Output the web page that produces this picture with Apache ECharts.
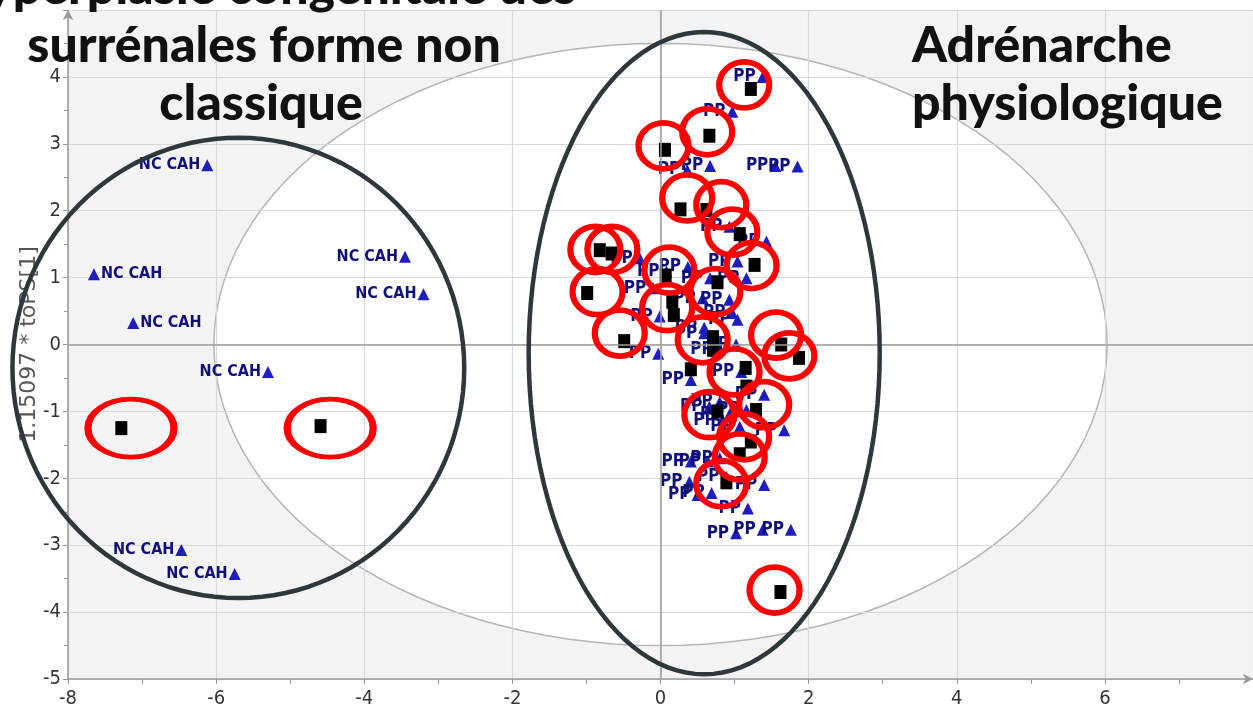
<!DOCTYPE html>
<html>
<head>
<meta charset="utf-8">
<script src="https://cdn.jsdelivr.net/npm/echarts@6/dist/echarts.min.js"></script>
<style>
  html, body { margin: 0; padding: 0; background: #fff; }
  #chart { width: 1253px; height: 714px; }
</style>
</head>
<body>
<div id="chart"></div>
<script>
// NC CAH (hyperplasie congénitale non classique) scores
const ncCahPoints = [
  [-6.12, 2.68], [-7.65, 1.05], [-7.12, 0.32], [-5.30, -0.41],
  [-3.45, 1.31], [-3.20, 0.75], [-6.47, -3.07], [-5.75, -3.43]
];
// PP (adrénarche physiologique) scores
const ppPoints = [
  [1.38, 4.00], [0.97, 3.48], [0.67, 2.67], [0.36, 2.61], [1.55, 2.67], [1.85, 2.66],
  [0.93, 1.76], [1.43, 1.54], [1.04, 1.24], [1.16, 0.99], [-0.28, 1.29], [0.08, 1.09],
  [0.37, 1.16], [-0.10, 0.84], [0.57, 0.69], [0.67, 0.99], [0.93, 0.67], [1.04, 0.37],
  [-0.01, 0.42], [0.59, 0.25], [0.97, 0.47], [-0.03, -0.14], [0.41, -0.53], [0.59, 0.17],
  [1.02, 0.00], [0.80, -0.08], [1.09, -0.41], [1.40, -0.75], [0.66, -0.93], [0.80, -0.86],
  [0.93, -1.05], [1.16, -0.98], [1.67, -1.28], [0.84, -1.13], [1.07, -1.23],
  [0.41, -1.75], [0.64, -1.75], [0.80, -1.70], [0.39, -2.05], [0.69, -2.22], [0.50, -2.25],
  [0.89, -1.98], [1.40, -2.10], [1.18, -2.45], [1.02, -2.82], [1.38, -2.77], [1.76, -2.77]
];
// predicted samples (black squares)
const predPoints = [
  [-7.28, -1.25], [-4.59, -1.22],
  [1.22, 3.82], [0.66, 3.12], [0.06, 2.91], [0.27, 2.02], [0.62, 2.01], [1.07, 1.65],
  [-0.82, 1.41], [-0.66, 1.36], [1.27, 1.19], [0.07, 1.03], [0.77, 0.93], [-0.99, 0.77],
  [0.16, 0.64], [0.18, 0.44], [-0.49, 0.05], [0.71, 0.11], [0.71, -0.08], [1.63, 0.00],
  [1.87, -0.20], [0.41, -0.37], [1.15, -0.35], [1.16, -0.63], [1.29, -0.98], [0.77, -1.00],
  [1.22, -1.45], [1.07, -1.64], [0.89, -2.06], [1.62, -3.70]
];
// red highlight rings
const ringPoints = [
  [1.13, 3.88], [0.63, 3.18], [0.04, 2.97], [0.36, 2.19], [0.82, 2.09], [0.97, 1.68],
  [1.23, 1.18], [-0.88, 1.42], [-0.65, 1.42], [-0.85, 0.79], [0.12, 1.11], [0.74, 0.79],
  [0.09, 0.55], [-0.55, 0.17], [0.57, 0.07], [1.56, 0.14], [1.74, -0.17], [1.00, -0.41],
  [0.66, -1.05], [1.40, -0.90], [1.13, -1.38], [1.07, -1.68], [0.82, -2.08], [1.54, -3.67]
];
const wideRingPoints = [[-7.15, -1.25], [-4.46, -1.25]];
// Hotelling T2 ellipse and group ellipses: [cx, cy, rx, ry]
const hotelling = [[0, 0, 6.03, 4.5]];
const groupEllipses = [[-5.70, -0.35, 3.05, 3.44], [0.59, -0.13, 2.37, 4.80]];
const ncLabelRight = [1, 2];

const chart = echarts.init(document.getElementById('chart'));

function ellipsePts(api, e) {
  const pts = [];
  for (let i = 0; i < 120; i++) {
    const t = (i / 120) * Math.PI * 2;
    pts.push(api.coord([e[0] + e[2] * Math.cos(t), e[1] + e[3] * Math.sin(t)]));
  }
  return pts;
}

const axisFont = 'DejaVu Sans Condensed';
const titleFont = '900 50px Lato';
function titleText(text, x, y, align) {
  return { type: 'text', z: 100, style: { text: text, x: x, y: y, font: titleFont, fill: '#111',
    textAlign: align, textVerticalAlign: 'middle', align: align, verticalAlign: 'middle' } };
}

chart.setOption({
  animation: false,
  grid: { left: 68, right: 0, top: 10, bottom: 35 },
  xAxis: {
    type: 'value', min: -8, max: 8, interval: 2,
    axisLine: { show: true, onZero: false, symbol: ['none', 'arrow'], symbolSize: [8, 10],
      lineStyle: { color: '#9a9a9a', width: 1.5 } },
    axisTick: { show: true, length: 5, lineStyle: { color: '#9a9a9a' } },
    minorTick: { show: true, splitNumber: 2, length: 5, lineStyle: { color: '#9a9a9a' } },
    splitLine: { show: true, lineStyle: { color: '#d9d9d9', width: 1.2 } },
    axisLabel: { showMaxLabel: false, fontSize: 20, color: '#333', fontFamily: axisFont, margin: 10 }
  },
  yAxis: {
    type: 'value', min: -5, max: 5, interval: 1,
    name: '1.15097 * toPS[1]', nameLocation: 'middle', nameGap: 28, nameRotate: 90,
    nameMoveOverlap: false,
    nameTextStyle: { fontSize: 22, color: '#555', fontFamily: 'DejaVu Sans' },
    axisLine: { show: true, onZero: false, symbol: ['none', 'arrow'], symbolSize: [8, 10],
      lineStyle: { color: '#9a9a9a', width: 1.5 } },
    axisTick: { show: true, length: 5, lineStyle: { color: '#9a9a9a' } },
    minorTick: { show: true, splitNumber: 2, length: 4, lineStyle: { color: '#9a9a9a' } },
    splitLine: { show: true, lineStyle: { color: '#d9d9d9', width: 1.2 } },
    axisLabel: { showMaxLabel: false, fontSize: 20, color: '#333', fontFamily: axisFont, margin: 7 }
  },
  graphic: [
    titleText('Hyperplasie congénitale des', 262, -12, 'center'),
    titleText('surrénales forme non', 264, 46, 'center'),
    titleText('classique', 261, 104, 'center'),
    titleText('Adrénarche', 912, 46, 'left'),
    titleText('physiologique', 912, 104, 'left')
  ],
  series: [
    {
      // plot background + Hotelling ellipse + zero lines
      type: 'custom', z: -1, silent: true,
      data: hotelling,
      renderItem: function (params, api) {
        const cs = params.coordSys;
        const e = [api.value(0), api.value(1), api.value(2), api.value(3)];
        return {
          type: 'group',
          children: [
            { type: 'rect', shape: { x: cs.x, y: cs.y, width: cs.width, height: cs.height },
              style: { fill: '#f3f3f3' } },
            { type: 'polygon', shape: { points: ellipsePts(api, e) },
              style: { fill: '#ffffff', stroke: '#b5b5b5', lineWidth: 1.5 } }
          ]
        };
      },
      markLine: {
        silent: true, symbol: 'none', label: { show: false },
        lineStyle: { color: '#9c9c9c', width: 1.5, type: 'solid' },
        data: [{ xAxis: 0 }, { yAxis: 0 }]
      }
    },
    {
      name: 'NC CAH', type: 'scatter', z: 3,
      data: ncCahPoints.map((p, i) => ({
        value: p,
        label: { position: ncLabelRight.includes(i) ? 'right' : 'left' }
      })),
      symbol: 'triangle', symbolSize: 12,
      itemStyle: { color: '#1d1dc0', opacity: 1 },
      label: { show: true, formatter: 'NC CAH', distance: 1, fontSize: 16, fontWeight: 'bold',
        color: '#10107a', fontFamily: 'DejaVu Sans Condensed' }
    },
    {
      name: 'PP', type: 'scatter', z: 3,
      data: ppPoints,
      symbol: 'triangle', symbolSize: 12,
      itemStyle: { color: '#1d1dc0', opacity: 1 },
      label: { show: true, position: 'left', formatter: 'PP', distance: 1, fontSize: 17, fontWeight: 'bold',
        color: '#10107a', fontFamily: 'DejaVu Sans Condensed' }
    },
    {
      name: 'Prédits', type: 'scatter', z: 4,
      data: predPoints,
      symbol: 'rect', symbolSize: [12, 14],
      itemStyle: { color: '#000', opacity: 1 }
    },
    {
      type: 'scatter', z: 5, silent: true,
      data: ringPoints,
      symbol: 'circle', symbolSize: [50, 46],
      itemStyle: { color: 'rgba(0,0,0,0)', borderColor: '#ff0000', borderWidth: 6, opacity: 1 }
    },
    {
      type: 'scatter', z: 5, silent: true,
      data: wideRingPoints,
      symbol: 'circle', symbolSize: [86, 58],
      itemStyle: { color: 'rgba(0,0,0,0)', borderColor: '#ff0000', borderWidth: 6, opacity: 1 }
    },
    {
      type: 'custom', z: 6, silent: true,
      data: groupEllipses,
      renderItem: function (params, api) {
        const e = [api.value(0), api.value(1), api.value(2), api.value(3)];
        return {
          type: 'polygon', shape: { points: ellipsePts(api, e) },
          style: { fill: 'none', stroke: '#2e383b', lineWidth: 4.5 }
        };
      }
    }
  ]
});
</script>
</body>
</html>
